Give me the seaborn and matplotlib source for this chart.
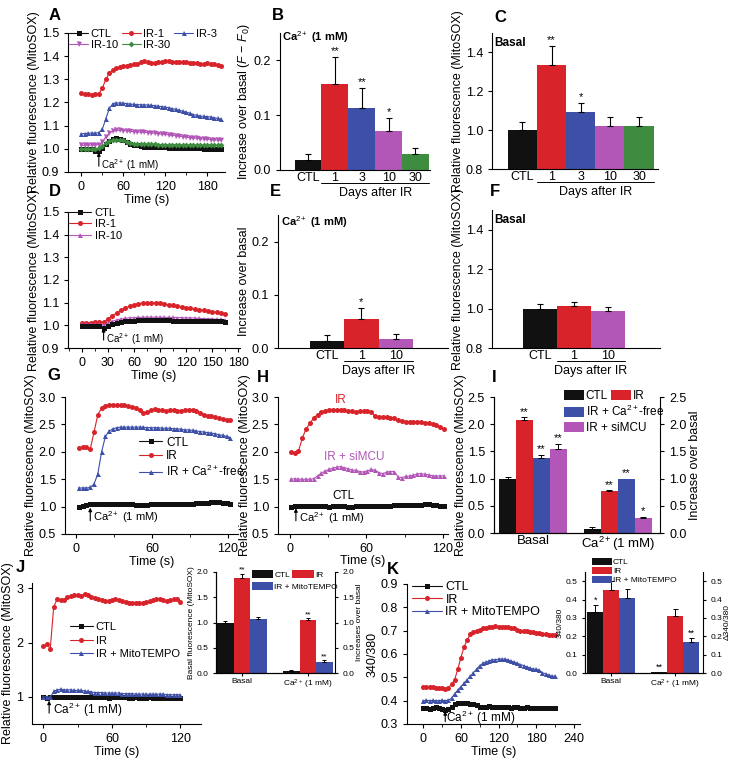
import numpy as np
import pandas as pd
import matplotlib
matplotlib.use("Agg")
import matplotlib.pyplot as plt
from matplotlib.patches import Patch
from matplotlib.container import BarContainer
from matplotlib.ticker import AutoMinorLocator
import seaborn as sns

sns.set_style("ticks")
plt.rcParams.update({
    "font.family": ["Liberation Sans", "DejaVu Sans"],
    "font.size": 9,
    "mathtext.fontset": "custom",
    "mathtext.rm": "Liberation Sans",
    "mathtext.it": "Liberation Sans:italic",
    "mathtext.bf": "Liberation Sans:bold",
    "axes.linewidth": 0.8,
    "axes.edgecolor": "black",
    "axes.labelcolor": "black",
    "text.color": "black",
    "axes.labelsize": 9,
    "xtick.labelsize": 9,
    "ytick.labelsize": 9,
    "xtick.major.size": 3, "ytick.major.size": 3,
    "xtick.minor.size": 1.8, "ytick.minor.size": 1.8,
    "xtick.major.width": 0.8, "ytick.major.width": 0.8,
    "xtick.minor.width": 0.6, "ytick.minor.width": 0.6,
    "xtick.color": "black", "ytick.color": "black",
    "legend.frameon": False,
})

BLACK = "#111111"
RED = "#d9232a"
BLUE = "#3d4fa6"
VIOLET = "#b256b8"
GREEN = "#3e8c3f"
CA = "Ca$^{2+}$ (1 mM)"

# ── A: time courses, days after IR ──────────────────────────────
t_a = [0, 5, 10, 15, 20, 25, 30, 35, 40, 45, 50, 55, 60, 65, 70, 75, 80, 85, 90, 95, 100,
       105, 110, 115, 120, 125, 130, 135, 140, 145, 150, 155, 160, 165, 170, 175, 180,
       185, 190, 195, 200]
a_ctl = [1.000, 1.000, 1.000, 0.998, 0.992, 0.990, 1.005, 1.020, 1.035, 1.043, 1.045, 1.044,
         1.040, 1.030, 1.022, 1.018, 1.015, 1.012, 1.010, 1.010, 1.008, 1.008, 1.007, 1.006,
         1.006, 1.005, 1.005, 1.004, 1.004, 1.004, 1.003, 1.003, 1.002, 1.002, 1.002, 1.001,
         1.001, 1.001, 1.000, 1.000, 1.000]
a_ir1 = [1.240, 1.236, 1.235, 1.234, 1.236, 1.238, 1.262, 1.300, 1.328, 1.342, 1.348, 1.352,
         1.356, 1.358, 1.362, 1.365, 1.368, 1.373, 1.378, 1.374, 1.370, 1.372, 1.374, 1.376,
         1.378, 1.377, 1.376, 1.376, 1.374, 1.373, 1.374, 1.372, 1.370, 1.370, 1.368, 1.366,
         1.370, 1.368, 1.365, 1.362, 1.356]
a_ir3 = [1.065, 1.066, 1.067, 1.068, 1.068, 1.070, 1.085, 1.130, 1.175, 1.195, 1.198, 1.198,
         1.197, 1.195, 1.193, 1.192, 1.191, 1.190, 1.190, 1.189, 1.188, 1.186, 1.184, 1.182,
         1.180, 1.177, 1.174, 1.170, 1.166, 1.162, 1.158, 1.153, 1.148, 1.144, 1.141, 1.140,
         1.139, 1.137, 1.134, 1.131, 1.128]
a_ir10 = [1.015, 1.015, 1.016, 1.016, 1.017, 1.018, 1.030, 1.052, 1.068, 1.077, 1.080, 1.080,
          1.079, 1.077, 1.075, 1.074, 1.073, 1.072, 1.072, 1.070, 1.069, 1.067, 1.065, 1.063,
          1.062, 1.060, 1.058, 1.056, 1.054, 1.052, 1.050, 1.048, 1.046, 1.045, 1.043, 1.042,
          1.041, 1.040, 1.039, 1.038, 1.037]
a_ir30 = [1.000, 1.000, 1.000, 1.000, 1.000, 1.002, 1.012, 1.025, 1.033, 1.038, 1.040, 1.039,
          1.036, 1.030, 1.025, 1.022, 1.020, 1.020, 1.020, 1.019, 1.019, 1.019, 1.018, 1.018,
          1.018, 1.018, 1.018, 1.018, 1.017, 1.017, 1.017, 1.017, 1.017, 1.016, 1.016, 1.016,
          1.016, 1.016, 1.016, 1.015, 1.015]

# ── B / C: bars, days after IR ──────────────────────────────────
days5 = ["CTL", "1", "3", "10", "30"]
colors5 = [BLACK, RED, BLUE, VIOLET, GREEN]
b_vals = [0.018, 0.157, 0.114, 0.072, 0.029]
b_errs = [0.012, 0.050, 0.036, 0.023, 0.011]
b_stars = ["", "**", "**", "*", ""]
c_vals = [1.00, 1.335, 1.095, 1.022, 1.022]
c_errs = [0.04, 0.100, 0.045, 0.045, 0.045]
c_stars = ["", "**", "*", "", ""]

# ── D: time courses ─────────────────────────────────────────────
t_d = [0, 5, 10, 15, 20, 25, 30, 35, 40, 45, 50, 55, 60, 65, 70, 75, 80, 85, 90, 95, 100,
       105, 110, 115, 120, 125, 130, 135, 140, 145, 150, 155, 160, 165]
d_ctl = [0.995, 0.995, 0.995, 0.995, 0.995, 0.990, 0.998, 1.006, 1.012, 1.016, 1.019, 1.020,
         1.021, 1.022, 1.022, 1.022, 1.023, 1.023, 1.022, 1.022, 1.022, 1.021, 1.021, 1.020,
         1.020, 1.020, 1.019, 1.019, 1.019, 1.018, 1.018, 1.017, 1.017, 1.016]
d_ir1 = [1.012, 1.012, 1.012, 1.013, 1.013, 1.015, 1.028, 1.042, 1.055, 1.067, 1.077, 1.085,
         1.091, 1.095, 1.098, 1.099, 1.100, 1.099, 1.097, 1.094, 1.091, 1.088, 1.085, 1.082,
         1.078, 1.075, 1.072, 1.069, 1.066, 1.063, 1.060, 1.058, 1.055, 1.052]
d_ir10 = [1.004, 1.004, 1.004, 1.004, 1.004, 1.002, 1.010, 1.018, 1.024, 1.028, 1.031, 1.033,
          1.034, 1.035, 1.036, 1.036, 1.036, 1.036, 1.036, 1.035, 1.035, 1.035, 1.034, 1.034,
          1.033, 1.033, 1.032, 1.031, 1.030, 1.029, 1.028, 1.027, 1.026, 1.025]

# ── E / F: bars ─────────────────────────────────────────────────
days3 = ["CTL", "1", "10"]
colors3 = [BLACK, RED, VIOLET]
e_vals = [0.014, 0.054, 0.017]
e_errs = [0.010, 0.022, 0.010]
e_stars = ["", "*", ""]
f_vals = [1.00, 1.015, 0.99]
f_errs = [0.025, 0.020, 0.020]
f_stars = ["", "", ""]

# ── G: IR vs Ca2+-free ──────────────────────────────────────────
t_g = [2, 5, 8, 11, 14, 17, 20, 23, 26, 29, 32, 35, 38, 41, 44, 47, 50, 53, 56, 59, 62, 65,
       68, 71, 74, 77, 80, 83, 86, 89, 92, 95, 98, 101, 104, 107, 110, 113, 116, 119, 122]
g_ir = [2.07, 2.08, 2.08, 2.05, 2.36, 2.68, 2.80, 2.84, 2.86, 2.86, 2.86, 2.85, 2.85, 2.84,
        2.82, 2.80, 2.76, 2.71, 2.72, 2.76, 2.78, 2.77, 2.76, 2.75, 2.76, 2.76, 2.75, 2.75,
        2.76, 2.77, 2.77, 2.75, 2.71, 2.68, 2.66, 2.65, 2.63, 2.61, 2.59, 2.58, 2.58]
g_free = [1.34, 1.34, 1.34, 1.35, 1.41, 1.60, 2.00, 2.28, 2.38, 2.42, 2.44, 2.45, 2.45, 2.45,
          2.45, 2.45, 2.45, 2.45, 2.44, 2.44, 2.44, 2.44, 2.43, 2.43, 2.43, 2.42, 2.42, 2.41,
          2.40, 2.40, 2.39, 2.38, 2.37, 2.36, 2.35, 2.34, 2.33, 2.31, 2.30, 2.28, 2.26]
g_ctl = [1.00, 1.02, 1.03, 1.04, 1.04, 1.04, 1.04, 1.04, 1.04, 1.04, 1.04, 1.04, 1.04, 1.04,
         1.04, 1.03, 1.03, 1.03, 1.03, 1.04, 1.04, 1.05, 1.05, 1.05, 1.05, 1.05, 1.05, 1.05,
         1.05, 1.05, 1.05, 1.06, 1.06, 1.07, 1.07, 1.08, 1.08, 1.08, 1.07, 1.06, 1.04]

# ── H: IR vs siMCU ──────────────────────────────────────────────
t_h = [1, 4, 7, 10, 13, 16, 19, 22, 25, 28, 31, 34, 37, 40, 43, 46, 49, 52, 55, 58, 61, 64,
       67, 70, 73, 76, 79, 82, 85, 88, 91, 94, 97, 100, 103, 106, 109, 112, 115, 118, 121]
h_ir = [2.00, 1.97, 2.01, 2.25, 2.42, 2.52, 2.62, 2.68, 2.72, 2.75, 2.76, 2.77, 2.77, 2.77,
        2.76, 2.75, 2.74, 2.73, 2.74, 2.74, 2.74, 2.72, 2.65, 2.64, 2.63, 2.63, 2.62, 2.61,
        2.58, 2.56, 2.55, 2.54, 2.55, 2.55, 2.54, 2.53, 2.52, 2.50, 2.48, 2.45, 2.41]
h_mcu = [1.50, 1.51, 1.50, 1.50, 1.50, 1.50, 1.51, 1.56, 1.61, 1.65, 1.68, 1.70, 1.72, 1.73,
         1.71, 1.69, 1.67, 1.66, 1.64, 1.63, 1.65, 1.68, 1.66, 1.62, 1.60, 1.63, 1.64, 1.64,
         1.54, 1.53, 1.55, 1.56, 1.57, 1.60, 1.60, 1.59, 1.58, 1.56, 1.56, 1.56, 1.56]
h_ctl = [1.00, 1.01, 1.01, 1.02, 1.02, 1.02, 1.01, 1.01, 1.01, 1.01, 1.00, 1.01, 1.01, 1.01,
         1.01, 1.00, 1.00, 1.01, 1.01, 1.01, 1.02, 1.02, 1.02, 1.02, 1.02, 1.02, 1.02, 1.03,
         1.03, 1.03, 1.03, 1.03, 1.03, 1.03, 1.03, 1.04, 1.04, 1.03, 1.03, 1.02, 1.02]

# ── I: grouped bars ─────────────────────────────────────────────
i_groups = ["Basal", "Ca$^{2+}$(1 mM)"]
i_conds = ["CTL", "IR", "IR + Ca$^{2+}$-free", "IR + siMCU"]
i_colors = [BLACK, RED, BLUE, VIOLET]
i_vals = [[1.00, 2.07, 1.37, 1.55], [0.08, 0.78, 1.00, 0.27]]
i_errs = [[0.03, 0.06, 0.07, 0.09], [0.03, 0.01, 0.00, 0.03]]
i_stars = [["", "**", "**", "**"], ["", "**", "**", "*"]]

# ── J: MitoTEMPO, MitoSOX ───────────────────────────────────────
t_j = [0, 3, 6, 9, 12, 15, 18, 21, 24, 27, 30, 33, 36, 39, 42, 45, 48, 51, 54, 57, 60, 63,
       66, 69, 72, 75, 78, 81, 84, 87, 90, 93, 96, 99, 102, 105, 108, 111, 114, 117, 120]
j_ir = [1.93, 1.97, 1.89, 2.66, 2.80, 2.79, 2.78, 2.84, 2.86, 2.87, 2.88, 2.86, 2.90, 2.88,
        2.85, 2.83, 2.81, 2.78, 2.77, 2.76, 2.79, 2.81, 2.79, 2.76, 2.75, 2.74, 2.73, 2.74,
        2.73, 2.74, 2.75, 2.76, 2.78, 2.80, 2.81, 2.78, 2.77, 2.79, 2.80, 2.81, 2.75]
j_mt = [1.00, 1.00, 0.99, 1.10, 1.13, 1.14, 1.13, 1.13, 1.13, 1.12, 1.12, 1.12, 1.11, 1.10,
        1.09, 1.08, 1.08, 1.08, 1.07, 1.07, 1.07, 1.07, 1.07, 1.06, 1.06, 1.06, 1.06, 1.05,
        1.05, 1.05, 1.05, 1.05, 1.05, 1.05, 1.05, 1.05, 1.04, 1.04, 1.04, 1.04, 1.04]
j_ctl = [1.00, 0.98, 1.00, 1.00, 0.99, 0.99, 0.99, 0.99, 0.99, 0.99, 0.99, 0.99, 0.99, 0.99,
         0.99, 0.99, 0.99, 0.99, 0.99, 0.98, 0.99, 0.99, 0.99, 0.99, 0.99, 0.98, 0.98, 0.99,
         0.98, 0.98, 0.98, 0.99, 0.98, 0.98, 0.98, 0.98, 0.98, 0.98, 0.98, 0.98, 0.98]
jk_groups = ["Basal", "Ca$^{2+}$ (1 mM)"]
jk_conds = ["CTL", "IR", "IR + MitoTEMPO"]
jk_colors = [BLACK, RED, BLUE]
ji_vals = [[1.00, 1.88, 1.06], [0.03, 1.05, 0.22]]
ji_errs = [[0.03, 0.08, 0.04], [0.02, 0.03, 0.03]]
ji_stars = [["", "**", ""], ["", "**", "**"]]

# ── K: MitoTEMPO, fura-2 ratio ──────────────────────────────────
t_k = [0, 5, 10, 15, 20, 25, 30, 35, 40, 45, 50, 55, 60, 65, 70, 75, 80, 85, 90, 95, 100,
       105, 110, 115, 120, 125, 130, 135, 140, 145, 150, 155, 160, 165, 170, 175, 180, 185,
       190, 195, 200, 205, 210]
k_ir = [0.460, 0.458, 0.458, 0.457, 0.455, 0.455, 0.455, 0.452, 0.455, 0.470, 0.490, 0.535,
        0.585, 0.630, 0.660, 0.685, 0.695, 0.700, 0.705, 0.710, 0.710, 0.715, 0.715, 0.720,
        0.715, 0.715, 0.715, 0.715, 0.710, 0.710, 0.705, 0.700, 0.700, 0.700, 0.695, 0.695,
        0.690, 0.690, 0.685, 0.685, 0.683, 0.680, 0.680]
k_mt = [0.400, 0.402, 0.400, 0.401, 0.400, 0.400, 0.402, 0.400, 0.402, 0.410, 0.430, 0.445,
        0.460, 0.475, 0.490, 0.505, 0.520, 0.535, 0.550, 0.560, 0.565, 0.570, 0.575, 0.575,
        0.578, 0.578, 0.578, 0.575, 0.570, 0.565, 0.560, 0.555, 0.550, 0.545, 0.540, 0.535,
        0.535, 0.530, 0.520, 0.515, 0.510, 0.505, 0.505]
k_ctl = [0.370, 0.370, 0.365, 0.370, 0.375, 0.370, 0.365, 0.360, 0.365, 0.375, 0.385, 0.390,
         0.390, 0.392, 0.390, 0.385, 0.385, 0.380, 0.375, 0.375, 0.375, 0.376, 0.375, 0.375,
         0.372, 0.372, 0.374, 0.372, 0.370, 0.372, 0.372, 0.370, 0.370, 0.372, 0.370, 0.370,
         0.370, 0.370, 0.370, 0.370, 0.370, 0.370, 0.370]
ki_vals = [[0.33, 0.45, 0.41], [0.005, 0.31, 0.17]]
ki_errs = [[0.04, 0.05, 0.045], [0.0, 0.04, 0.02]]
ki_stars = [["*", "", ""], ["**", "", "**"]]

W, H = 738, 762
fig = plt.figure(figsize=(W / 100, H / 100), dpi=100)
fig.patch.set_facecolor("white")


def add_ax(x0, y0, x1, y1):
    return fig.add_axes([x0 / W, 1 - y1 / H, (x1 - x0) / W, (y1 - y0) / H])


def trace(ax, t, y, color, marker, label=None, ms=3.6):
    sns.lineplot(x=t, y=y, color=color, marker=marker, markersize=ms, markeredgewidth=0,
                 linewidth=0.8, label=label, estimator=None, sort=False, ax=ax)


def ca_arrow(ax, t, y0, y1, ytext, dx, size=7.5):
    ax.annotate("", xy=(t, y1), xytext=(t, y0),
                arrowprops=dict(arrowstyle="-|>", color="black", lw=0.8,
                                mutation_scale=5, shrinkA=0, shrinkB=0))
    ax.text(t + dx, ytext, CA, fontsize=size, va="center", ha="left")


def style_trace_ax(ax, xlim, ylim, xticks, yticks, ylabel):
    ax.set_xlim(*xlim)
    ax.set_ylim(*ylim)
    ax.set_xticks(xticks)
    ax.set_yticks(yticks)
    ax.xaxis.set_minor_locator(AutoMinorLocator(2))
    ax.set_xlabel("Time (s)", labelpad=1)
    ax.set_ylabel(ylabel, labelpad=1.5)
    sns.despine(ax=ax)


def simple_bars(ax, cats, colors, vals, errs, stars, xlim, ylim, yticks, ylabel):
    sns.barplot(x=cats, y=vals, hue=cats, palette=dict(zip(cats, colors)), width=1,
                saturation=1, errorbar=None, linewidth=0, legend=False, ax=ax)
    for i, (v, e, s) in enumerate(zip(vals, errs, stars)):
        ax.errorbar([i], [v], yerr=[[0], [e]], fmt="none", ecolor="black",
                    elinewidth=0.8, capsize=2.2, capthick=0.8)
        if s:
            ax.annotate(s, (i, v + e), xytext=(0, 0.3), textcoords="offset points",
                        ha="center", va="bottom", fontsize=8)
    ax.set_xlim(*xlim)
    ax.set_ylim(*ylim)
    ax.set_yticks(yticks)
    ax.set_ylabel(ylabel, labelpad=1.5)
    ax.set_xlabel("")
    ax.tick_params(axis="x", length=0, pad=1.5)
    sns.despine(ax=ax)
    # "Days after IR" underline below the IR bars
    trans = ax.get_xaxis_transform()
    ax.plot([0.5, len(cats) - 0.5], [-0.095, -0.095], color="black", lw=0.7,
            transform=trans, clip_on=False)
    ax.text((len(cats)) / 2, -0.17, "Days after IR", transform=trans,
            ha="center", va="center")


def grouped_bars(ax, groups, conds, colors, vals, errs, stars, width, star_size, cap):
    df = pd.DataFrame({
        "group": [g for g in groups for _ in conds],
        "cond": [c for _ in groups for c in conds],
        "value": [v for row in vals for v in row],
    })
    sns.barplot(data=df, x="group", y="value", hue="cond", order=groups, hue_order=conds,
                palette=dict(zip(conds, colors)), width=width, saturation=1,
                errorbar=None, linewidth=0, legend=False, ax=ax)
    bar_conts = [c for c in ax.containers if isinstance(c, BarContainer)]
    for ci, container in enumerate(bar_conts):
        for gi, bar in enumerate(container.patches):
            x = bar.get_x() + bar.get_width() / 2
            v, e, s = vals[gi][ci], errs[gi][ci], stars[gi][ci]
            if e > 0:
                ax.errorbar([x], [v], yerr=[[0], [e]], fmt="none", ecolor="black",
                            elinewidth=0.7, capsize=cap, capthick=0.7)
            if s:
                ax.annotate(s, (x, v + e), xytext=(0, 0.3), textcoords="offset points",
                            ha="center", va="bottom", fontsize=star_size)
    ax.set_xlabel("")
    ax.set_ylabel("")
    ax.tick_params(axis="x", length=0, pad=1.5)


# ── Panel A ─────────────────────────────────────────────────────
ax = add_ax(68, 33, 225, 172)
trace(ax, t_a, a_ir1, RED, "o", "IR-1")
trace(ax, t_a, a_ir3, BLUE, "^", "IR-3")
trace(ax, t_a, a_ir10, VIOLET, "v", "IR-10")
trace(ax, t_a, a_ctl, BLACK, "s", "CTL")
trace(ax, t_a, a_ir30, GREEN, "D", "IR-30", ms=3.0)
style_trace_ax(ax, (-19, 205), (0.9, 1.5), [0, 60, 120, 180],
               [0.9, 1.0, 1.1, 1.2, 1.3, 1.4, 1.5], "Relative fluorescence (MitoSOX)")
hd = dict(zip(*ax.get_legend_handles_labels()[::-1]))
ax.legend([hd[k] for k in ["CTL", "IR-10", "IR-1", "IR-30", "IR-3"]],
          ["CTL", "IR-10", "IR-1", "IR-30", "IR-3"], ncol=3, loc="upper left",
          bbox_to_anchor=(0.0, 1.04), borderaxespad=0, borderpad=0.1, handlelength=1.7,
          handletextpad=0.25, columnspacing=0.35, labelspacing=0.15, fontsize=8)
ca_arrow(ax, 25, 0.925, 0.985, 0.93, 3, size=7)

# ── Panel B ─────────────────────────────────────────────────────
ax = add_ax(280, 33, 430, 170)
simple_bars(ax, days5, colors5, b_vals, b_errs, b_stars, (-1.04, 4.54), (0, 0.25),
            [0.0, 0.1, 0.2], r"Increase over basal ($F$ $-$ $F_0$)")
ax.text(0.015, 0.97, "Ca$^{2+}$ (1 mM)", transform=ax.transAxes, fontweight="bold",
        fontsize=8, va="center")

# ── Panel C ─────────────────────────────────────────────────────
ax = add_ax(492, 33, 658, 169)
simple_bars(ax, days5, colors5, c_vals, c_errs, c_stars, (-1.04, 4.65), (0.8, 1.5),
            [0.8, 1.0, 1.2, 1.4], "Relative fluorescence (MitoSOX)")
ax.text(0.015, 0.93, "Basal", transform=ax.transAxes, fontweight="bold", fontsize=8.5,
        va="center")

# ── Panel D ─────────────────────────────────────────────────────
ax = add_ax(68, 212, 240, 348)
trace(ax, t_d, d_ir1, RED, "o", "IR-1")
trace(ax, t_d, d_ir10, VIOLET, "^", "IR-10")
trace(ax, t_d, d_ctl, BLACK, "s", "CTL")
style_trace_ax(ax, (-16, 182), (0.9, 1.5), [0, 30, 60, 90, 120, 150, 180],
               [0.9, 1.0, 1.1, 1.2, 1.3, 1.4, 1.5], "Relative fluorescence (MitoSOX)")
hd = dict(zip(*ax.get_legend_handles_labels()[::-1]))
ax.legend([hd[k] for k in ["CTL", "IR-1", "IR-10"]], ["CTL", "IR-1", "IR-10"],
          loc="upper left", bbox_to_anchor=(0.0, 1.04), borderaxespad=0, borderpad=0.1,
          handlelength=2.0, handletextpad=0.3, labelspacing=0.15, fontsize=8)
ca_arrow(ax, 25, 0.935, 0.988, 0.94, 3, size=7)

# ── Panel E ─────────────────────────────────────────────────────
ax = add_ax(278, 215, 448, 348)
simple_bars(ax, days3, colors3, e_vals, e_errs, e_stars, (-1.41, 3.5), (0, 0.25),
            [0.0, 0.1, 0.2], "Increase over basal")
ax.text(0.015, 0.95, "Ca$^{2+}$ (1 mM)", transform=ax.transAxes, fontweight="bold",
        fontsize=8, va="center")

# ── Panel F ─────────────────────────────────────────────────────
ax = add_ax(492, 210, 660, 348)
simple_bars(ax, days3, colors3, f_vals, f_errs, f_stars, (-1.4, 3.53), (0.8, 1.5),
            [0.8, 1.0, 1.2, 1.4], "Relative fluorescence (MitoSOX)")
ax.text(0.015, 0.93, "Basal", transform=ax.transAxes, fontweight="bold", fontsize=8.5,
        va="center")

# ── Panel G ─────────────────────────────────────────────────────
ax = add_ax(65, 397, 238, 534)
trace(ax, t_g, g_ctl, BLACK, "s", "CTL")
trace(ax, t_g, g_ir, RED, "o", "IR")
trace(ax, t_g, g_free, BLUE, "^", "IR + Ca$^{2+}$-free")
style_trace_ax(ax, (-9, 128), (0.5, 3.0), [0, 60, 120],
               [0.5, 1.0, 1.5, 2.0, 2.5, 3.0], "Relative fluorescence (MitoSOX)")
ax.legend(loc="upper left", bbox_to_anchor=(0.42, 0.72), borderaxespad=0, borderpad=0.1,
          handlelength=2.0, handletextpad=0.3, labelspacing=0.15, fontsize=8.5)
ca_arrow(ax, 11, 0.74, 0.98, 0.81, 2.5, size=8)

# ── Panel H ─────────────────────────────────────────────────────
ax = add_ax(278, 397, 448, 534)
trace(ax, t_h, h_ctl, BLACK, "s")
trace(ax, t_h, h_ir, RED, "o")
trace(ax, t_h, h_mcu, VIOLET, "^")
style_trace_ax(ax, (-9, 124), (0.5, 3.0), [0, 60, 120],
               [0.5, 1.0, 1.5, 2.0, 2.5, 3.0], "Relative fluorescence (MitoSOX)")
ax.yaxis.labelpad = 0.5
ax.xaxis.labelpad = 0
ax.text(40, 2.95, "IR", color=RED, ha="center", va="center", fontsize=8.5)
ax.text(51, 1.91, "IR + siMCU", color=VIOLET, ha="center", va="center", fontsize=8.5)
ax.text(42, 1.2, "CTL", color="black", ha="center", va="center", fontsize=8.5)
ca_arrow(ax, 5, 0.74, 0.97, 0.79, 2.5, size=8)

# ── Panel I ─────────────────────────────────────────────────────
ax = add_ax(494, 397, 660, 533)
grouped_bars(ax, i_groups, i_conds, i_colors, i_vals, i_errs, i_stars, 0.8, 8, 2.0)
ax.set_xlim(-0.46, 1.5)
ax.set_ylim(0, 2.5)
ax.set_yticks([0.0, 0.5, 1.0, 1.5, 2.0, 2.5])
ax.set_ylabel("Relative fluorescence (MitoSOX)", labelpad=0.5)
ax.tick_params(axis="x", labelsize=9.5)
ax2 = ax.twinx()
ax2.set_ylim(ax.get_ylim())
ax2.set_yticks([0.0, 0.5, 1.0, 1.5, 2.0, 2.5])
ax2.set_ylabel("Increase over basal", labelpad=2)
for a in (ax, ax2):
    a.spines["top"].set_visible(False)
ax.spines["right"].set_visible(False)
hi = [Patch(facecolor=c, edgecolor="none") for c in i_colors]
leg1 = ax.legend(hi[:2], i_conds[:2], ncol=2, loc="upper left", bbox_to_anchor=(0.42, 1.05),
                 borderaxespad=0, borderpad=0, handlelength=1.7, handleheight=0.85,
                 handletextpad=0.15, columnspacing=0.3, fontsize=8.5)
ax.add_artist(leg1)
ax.legend(hi[2:], i_conds[2:], loc="upper left", bbox_to_anchor=(0.42, 0.95),
          borderaxespad=0, borderpad=0, handlelength=1.7, handleheight=0.85,
          handletextpad=0.15, labelspacing=0.25, fontsize=8.5)

# ── Panel J ─────────────────────────────────────────────────────
ax = add_ax(32, 583, 201, 724)
trace(ax, t_j, j_ctl, BLACK, "s", "CTL")
trace(ax, t_j, j_ir, RED, "o", "IR")
trace(ax, t_j, j_mt, BLUE, "^", "IR + MitoTEMPO")
style_trace_ax(ax, (-10, 138), (0.5, 3.1), [0, 60, 120], [1, 2, 3],
               "Relative fluorescence (MitoSOX)")
ax.legend(loc="upper left", bbox_to_anchor=(0.22, 0.73), borderaxespad=0, borderpad=0.1,
          handlelength=2.0, handletextpad=0.3, labelspacing=0.3, fontsize=8)
ca_arrow(ax, 5, 0.70, 0.93, 0.76, 3, size=8.5)

# J inset
ax = add_ax(216, 572, 335, 673)
grouped_bars(ax, jk_groups, jk_conds, jk_colors, ji_vals, ji_errs, ji_stars, 0.75, 6, 1.6)
ax.set_xlim(-0.39, 1.41)
ax.set_ylim(0, 2.0)
ax.set_yticks([0.0, 0.5, 1.0, 1.5, 2.0])
ax.tick_params(labelsize=6, length=2)
ax.set_ylabel("Basal fluorescence (MitoSOX)", fontsize=6, labelpad=1)
ax2 = ax.twinx()
ax2.set_ylim(ax.get_ylim())
ax2.set_yticks([0.0, 0.5, 1.0, 1.5, 2.0])
ax2.tick_params(labelsize=6, length=2)
ax2.set_ylabel("Increases over basal", fontsize=6, labelpad=1)
for a in (ax, ax2):
    a.spines["top"].set_visible(False)
ax.spines["right"].set_visible(False)
hj = [Patch(facecolor=c, edgecolor="none") for c in jk_colors]
leg1 = ax.legend(hj[:2], jk_conds[:2], ncol=2, loc="upper left", bbox_to_anchor=(0.3, 1.02),
                 borderaxespad=0, borderpad=0, handlelength=2.6, handleheight=1.1,
                 handletextpad=0.1, columnspacing=0.3, fontsize=6)
ax.add_artist(leg1)
ax.legend(hj[2:], jk_conds[2:], loc="upper left", bbox_to_anchor=(0.3, 0.9),
          borderaxespad=0, borderpad=0, handlelength=2.6, handleheight=1.1,
          handletextpad=0.1, fontsize=6)

# ── Panel K ─────────────────────────────────────────────────────
ax = add_ax(407, 584, 580, 724)
trace(ax, t_k, k_ctl, BLACK, "s", "CTL")
trace(ax, t_k, k_ir, RED, "o", "IR")
trace(ax, t_k, k_mt, BLUE, "^", "IR + MitoTEMPO")
style_trace_ax(ax, (-26, 250), (0.3, 0.9), [0, 60, 120, 180, 240],
               [0.3, 0.4, 0.5, 0.6, 0.7, 0.8, 0.9], "340/380")
ax.legend(loc="upper left", bbox_to_anchor=(0.02, 1.03), borderaxespad=0, borderpad=0.1,
          handlelength=2.4, handletextpad=0.3, labelspacing=0.05, fontsize=9)
ca_arrow(ax, 35, 0.31, 0.355, 0.326, 2, size=8.5)

# K inset
ax = add_ax(585, 572, 703, 673)
grouped_bars(ax, jk_groups, jk_conds, jk_colors, ki_vals, ki_errs, ki_stars, 0.75, 6.5, 1.8)
ax.set_xlim(-0.41, 1.44)
ax.set_ylim(0, 0.55)
ax.set_yticks([0.0, 0.1, 0.2, 0.3, 0.4, 0.5])
ax.tick_params(labelsize=6, length=2)
ax.set_ylabel("340/380", fontsize=6, labelpad=1)
ax2 = ax.twinx()
ax2.set_ylim(ax.get_ylim())
ax2.set_yticks([0.0, 0.1, 0.2, 0.3, 0.4, 0.5])
ax2.tick_params(labelsize=6, length=2)
ax2.set_ylabel("Δ340/380", fontsize=6, labelpad=1)
for a in (ax, ax2):
    a.spines["top"].set_visible(False)
ax.spines["right"].set_visible(False)
hk = [Patch(facecolor=c, edgecolor="none") for c in jk_colors]
ax.legend(hk, jk_conds, loc="upper left", bbox_to_anchor=(0.06, 1.14), borderaxespad=0,
          borderpad=0, handlelength=2.4, handleheight=1.0, handletextpad=0.1,
          labelspacing=0.05, fontsize=6)

# ── Panel letters ───────────────────────────────────────────────
for letter, x, y in [("A", 55, 15), ("B", 278, 15), ("C", 500, 17), ("D", 55, 192),
                     ("E", 275, 191), ("F", 495, 191), ("G", 54, 376), ("H", 263, 377),
                     ("I", 494, 378), ("J", 20, 568), ("K", 393, 569)]:
    fig.text(x / W, 1 - y / H, letter, fontsize=12, fontweight="bold", ha="center",
             va="center")

fig.savefig("out.png", dpi=100, facecolor="white")
